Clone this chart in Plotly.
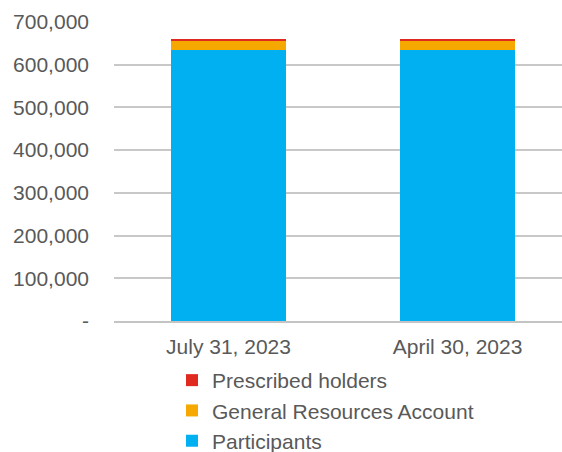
import plotly.graph_objects as go

categories = ["July 31, 2023", "April 30, 2023"]
participants = [633500, 633800]
gra = [23300, 23100]
prescribed = [3700, 3600]

tick_vals = [0, 100000, 200000, 300000, 400000, 500000, 600000, 700000]
tick_text = ["-", "100,000", "200,000", "300,000", "400,000", "500,000", "600,000", "700,000"]

FONT = "Liberation Sans, Arial, sans-serif"
GREY = "#595959"

fig = go.Figure()
fig.add_trace(go.Bar(name="Participants", x=categories, y=participants,
                     marker=dict(color="#00B0F0", line=dict(width=0)), width=0.5))
fig.add_trace(go.Bar(name="General Resources Account", x=categories, y=gra,
                     marker=dict(color="#F5A800", line=dict(width=0)), width=0.5))
fig.add_trace(go.Bar(name="Prescribed holders", x=categories, y=prescribed,
                     marker=dict(color="#E02A1F", line=dict(width=0)), width=0.5))

fig.update_layout(
    width=562, height=452,
    barmode="stack",
    paper_bgcolor="white", plot_bgcolor="white",
    margin=dict(l=114, r=0, t=22, b=131, autoexpand=False),
    font=dict(family=FONT, size=21, color=GREY),
    showlegend=True,
    legend=dict(
        traceorder="reversed",
        orientation="v",
        x=0.1295, xanchor="left",
        y=-0.1304, yanchor="top",
        font=dict(family=FONT, size=21, color=GREY),
        bgcolor="rgba(0,0,0,0)",
        itemclick=False,
    ),
    xaxis=dict(
        type="category",
        range=[-0.5, 1.456],
        automargin=False,
        showgrid=False,
        showline=True, linecolor="#c4c4c4", linewidth=1.5,
        ticks="", ticklabelstandoff=6, tickangle=0,
        tickfont=dict(family=FONT, size=21, color=GREY),
    ),
    yaxis=dict(
        range=[0, 700000],
        automargin=False,
        tickvals=tick_vals, ticktext=tick_text,
        showgrid=True, gridcolor="#c8c8c8", gridwidth=1.5,
        zeroline=False,
        showline=False,
        ticks="", ticklabelstandoff=24,
        tickfont=dict(family=FONT, size=21, color=GREY),
    ),
)

fig.write_html(
    "out.html",
    config={"displayModeBar": False},
    post_script="document.body.style.margin='0';document.body.style.overflow='hidden';",
)
